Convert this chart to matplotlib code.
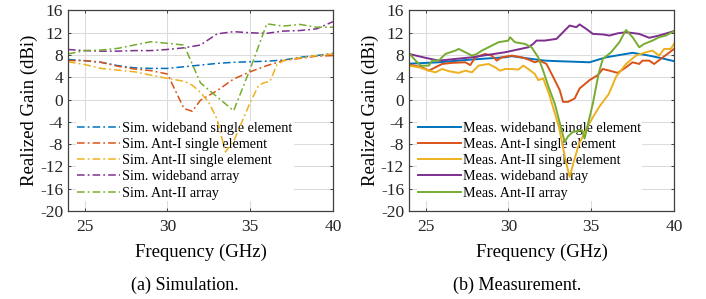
import numpy as np
import matplotlib.pyplot as plt

plt.rcParams['font.family'] = ['Liberation Serif', 'DejaVu Serif']
plt.rcParams['axes.unicode_minus'] = False

colors = ['#0072BD', '#D95319', '#EDB120', '#7E2F8E', '#77AC30']

# ---- simulation ----
f_sim = [24, 25, 26, 27, 28, 29, 30, 31, 32, 33, 34, 35, 36, 37, 38, 39, 40]
sim_wb_single = [7.2, 7.0, 6.7, 6.1, 5.7, 5.6, 5.6, 5.9, 6.2, 6.5, 6.7, 6.8, 6.9, 7.1, 7.6, 7.9, 8.3]
sim_wb_array = [9.0, 8.8, 8.7, 8.7, 8.8, 8.8, 9.0, 9.3, 9.8, 11.8, 12.2, 12.0, 11.9, 12.3, 12.4, 12.7, 14.0]
sim_ant2_array = [8.2, 8.8, 8.9, 9.2, 9.8, 10.4, 10.1, 9.8, 3.0, 0.5, -2.0, 5.5, 13.6, 13.2, 13.5, 13.0, 13.0]

f_sim_ant1 = [24, 25, 26, 27, 28, 29, 30, 31, 31.5, 32, 33, 34, 35, 36, 37, 38, 39, 40]
sim_ant1_single = [7.0, 7.0, 6.7, 6.0, 5.5, 5.2, 4.6, -1.6, -2.1, -0.1, 1.6, 3.7, 5.0, 6.1, 7.0, 7.4, 7.8, 7.9]

f_sim_ant2 = [24, 25, 26, 27, 28, 29, 30, 31, 31.5, 32, 32.5, 33, 33.5, 34, 34.5, 35, 35.5,
              35.8, 36.2, 36.6, 37, 38, 39, 40]
sim_ant2_single = [6.8, 6.3, 5.6, 5.3, 5.0, 4.4, 3.8, 3.3, 2.6, 1.3, -0.5, -3.5, -9.4, -7.5, -4.0,
                   -0.5, 2.5, 3.0, 3.3, 6.2, 7.0, 7.5, 7.9, 8.2]

# ---- measurement ----
f_m_wb = [24, 25.8, 27.8, 29.8, 30.2, 31.4, 32.2, 33, 34, 34.9, 35.9, 36.7, 37.5, 38.5, 39.3, 40]
meas_wb_single = [6.45, 6.7, 7.2, 7.6, 7.8, 7.3, 7.0, 6.9, 6.8, 6.7, 7.6, 8.0, 8.4, 7.9, 7.4, 6.9]

f_m_a1 = [24, 24.8, 25.2, 25.6, 26, 26.6, 27.4, 27.7, 28, 28.6, 29, 29.3, 29.6, 30.2, 30.8, 31.2,
          31.6, 31.9, 32.3, 32.7, 33.1, 33.3, 33.6, 34, 34.3, 34.9, 35.4, 35.7, 36.1, 36.6, 37.1,
          37.5, 37.9, 38.1, 38.5, 38.8, 39.2, 39.6, 40]
meas_ant1_single = [6.3, 5.8, 5.2, 5.8, 6.4, 6.6, 6.7, 6.2, 7.6, 8.2, 7.9, 7.0, 7.6, 7.9, 7.6, 7.2,
                    6.7, 7.0, 6.4, 4.1, 1.7, -0.4, -0.4, 0.2, 2.0, 3.5, 4.4, 5.5, 5.2, 4.8, 5.8,
                    6.7, 6.4, 7.0, 7.0, 6.4, 7.3, 8.2, 9.1]

f_m_a2 = [24, 24.6, 25.2, 25.6, 26, 26.4, 27, 27.4, 27.8, 28.2, 28.8, 29.2, 29.5, 29.8, 30.2,
          30.6, 30.9, 31.2, 31.6, 31.8, 32.1, 32.46, 33.06, 33.46, 33.7, 33.96, 34.26, 34.86,
          35.46, 36.06, 36.5, 37.1, 37.7, 38.3, 38.7, 39.1, 39.4, 39.8, 40]
meas_ant2_single = [6.1, 5.8, 5.2, 4.9, 5.5, 5.1, 4.8, 5.2, 4.9, 6.1, 6.4, 5.8, 5.2, 5.5, 5.5,
                    5.4, 6.1, 5.5, 4.6, 3.5, 3.8, 1.0, -5.0, -11.0, -13.9, -11.0, -8.0, -4.4,
                    -1.4, 1.0, 4.1, 6.4, 7.9, 8.5, 8.8, 7.9, 9.1, 9.1, 10.0]

f_m_wba = [24, 25, 25.8, 27.8, 29.8, 31.2, 31.5, 31.7, 32.2, 32.9, 33.4, 33.7, 34.1, 34.3, 34.7,
           35.1, 35.7, 36.1, 36.6, 37.1, 37.9, 38.5, 39.1, 40]
meas_wb_array = [8.2, 7.5, 7.0, 7.6, 8.5, 9.4, 10.0, 10.6, 10.6, 10.9, 12.4, 13.3, 13.0, 13.5, 12.7,
                 11.8, 11.7, 11.5, 11.9, 12.1, 11.8, 11.1, 11.5, 12.3]

f_m_a2a = [24, 24.4, 24.7, 25.2, 25.4, 25.8, 26.2, 26.8, 27, 27.4, 27.8, 28.1, 28.4, 29, 29.4,
           30, 30.1, 30.4, 31, 31.4, 31.8, 32.1, 32.4, 32.8, 33.4, 33.6, 33.9, 34.45, 34.6, 35.1,
           35.45, 35.7, 36.2, 36.7, 37.1, 37.5, 37.9, 38.2, 38.7, 39.1, 39.5, 40]
meas_ant2_array = [8.35, 7.0, 6.1, 6.1, 7.0, 7.0, 8.2, 8.8, 9.1, 8.5, 7.9, 8.2, 8.8, 9.7, 10.3,
                   10.6, 11.2, 10.3, 10.0, 9.4, 7.6, 5.2, 2.5, -0.7, -7.6, -6.6, -5.8, -5.5, -7.0,
                   -0.7, 4.7, 7.3, 8.5, 10.3, 12.5, 11.2, 9.4, 10.0, 10.6, 11.2, 11.5, 12.3]

sim_labels = ['Sim. wideband single element', 'Sim. Ant-I single element',
              'Sim. Ant-II single element', 'Sim. wideband array', 'Sim. Ant-II array']
meas_labels = ['Meas. wideband single element', 'Meas. Ant-I single element',
               'Meas. Ant-II single element', 'Meas. wideband array', 'Meas. Ant-II array']
yticks = [16, 12, 8, 4, 0, -4, -8, -12, -16, -20]
xticks = [25, 30, 35, 40]

fig = plt.figure(figsize=(7.06, 2.99), dpi=100)
ax1 = fig.add_axes([0.0963, 0.2943, 0.3754, 0.6706])
ax2 = fig.add_axes([0.5793, 0.2943, 0.3754, 0.6706])

sim = [(f_sim, sim_wb_single), (f_sim_ant1, sim_ant1_single), (f_sim_ant2, sim_ant2_single),
       (f_sim, sim_wb_array), (f_sim, sim_ant2_array)]
meas = [(f_m_wb, meas_wb_single), (f_m_a1, meas_ant1_single), (f_m_a2, meas_ant2_single),
        (f_m_wba, meas_wb_array), (f_m_a2a, meas_ant2_array)]

for i, (x, y) in enumerate(sim):
    ax1.plot(x, y, linestyle=(0, (5, 2, 1.2, 2)), color=colors[i], lw=1.1, label=sim_labels[i])
for i, (x, y) in enumerate(meas):
    ax2.plot(x, y, linestyle='-', color=colors[i], lw=1.4, label=meas_labels[i])

for ax in (ax1, ax2):
    ax.set_xlim(24, 40)
    ax.set_ylim(-20, 16)
    ax.set_xticks(xticks)
    ax.set_yticks(yticks)
    ax.grid(True, color='#dcdcdc', lw=0.8)
    ax.set_axisbelow(True)
    for s in ax.spines.values():
        s.set_linewidth(0.9)
        s.set_color('#404040')
    ax.tick_params(direction='in', length=2.5, width=0.6, labelsize=12.5, colors='#262626',
                   top=True, right=True)
    ax.tick_params(axis='x', pad=6)
    ax.set_xlabel('Frequency (GHz)', fontsize=13.5, labelpad=6)
    ax.set_ylabel('Realized Gain (dBi)', fontsize=13.5, labelpad=1)
    leg = ax.legend(loc='lower left', bbox_to_anchor=(0.03, 0.05), fontsize=10.2, frameon=True,
                    handlelength=3.0, handletextpad=0.15, labelspacing=0.22, borderpad=0.1,
                    borderaxespad=0)
    leg.get_frame().set_edgecolor('none')
    leg.get_frame().set_facecolor('white')
    leg.get_frame().set_alpha(1)
    leg.set_zorder(1)

fig.text(185 / 706, 1 - 285 / 299, '(a) Simulation.', ha='center', va='center', fontsize=13)
fig.text(517 / 706, 1 - 285 / 299, '(b) Measurement.', ha='center', va='center', fontsize=13)

fig.savefig('out.png', dpi=100)
